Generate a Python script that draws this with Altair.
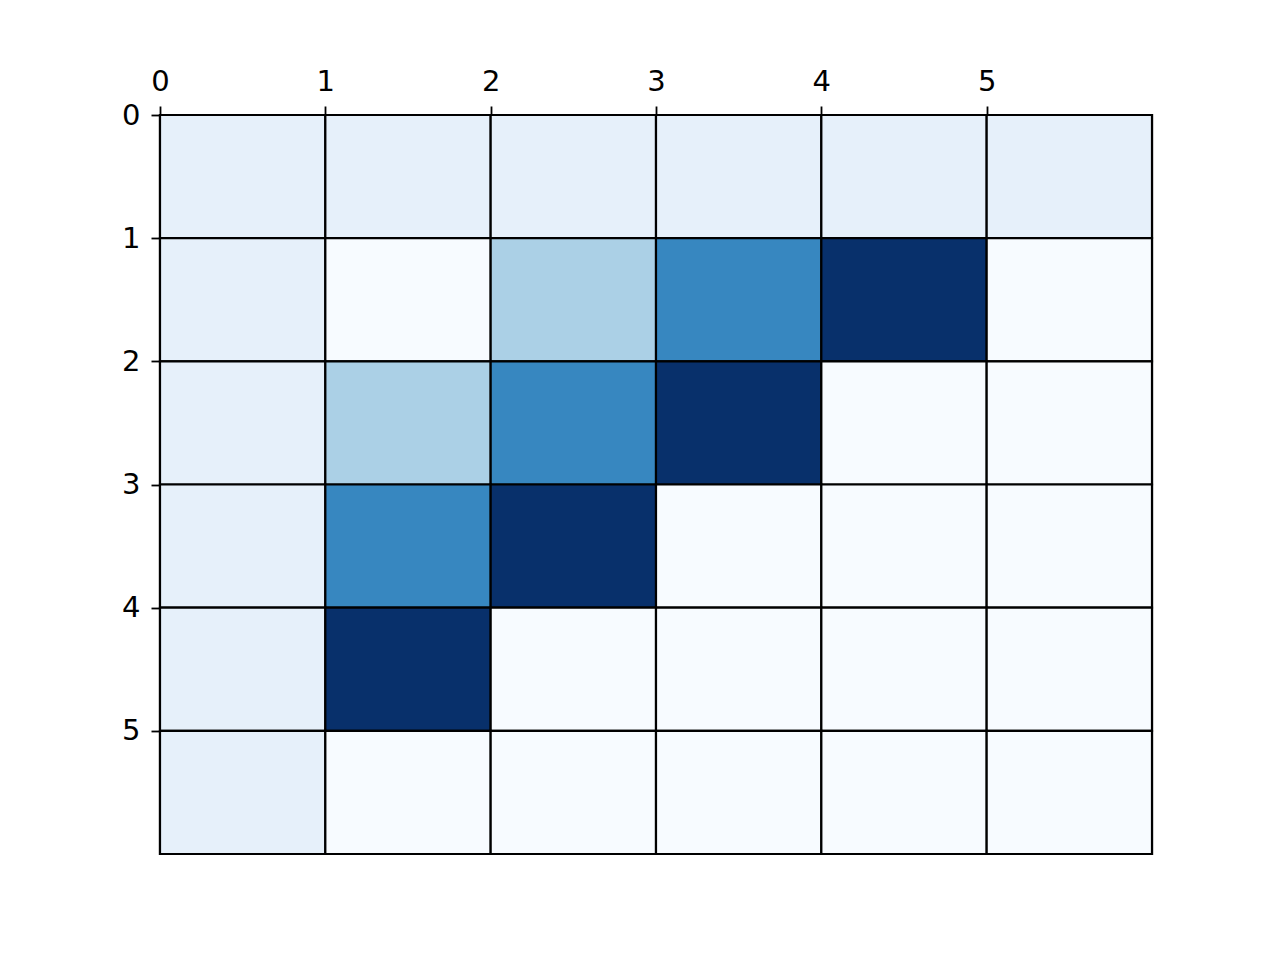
import altair as alt
import pandas as pd

# 6x6 grid values (row-major, row 0 at top)
rows = [0, 1, 2, 3, 4, 5]
cols = [0, 1, 2, 3, 4, 5]
values = [
    [0.25, 0.25, 0.25, 0.25, 0.25, 0.25],
    [0.25, 0.0, 1.0, 2.0, 3.0, 0.0],
    [0.25, 1.0, 2.0, 3.0, 0.0, 0.0],
    [0.25, 2.0, 3.0, 0.0, 0.0, 0.0],
    [0.25, 3.0, 0.0, 0.0, 0.0, 0.0],
    [0.25, 0.0, 0.0, 0.0, 0.0, 0.0],
]
tick_values = [0, 1, 2, 3, 4, 5]

# matplotlib "Blues" colour stops
blues = ["#f7fbff", "#deebf7", "#c6dbef", "#9ecae1", "#6baed6",
         "#4292c6", "#2171b5", "#08519c", "#08306b"]
vmax = 3.0
stops = [vmax * i / 8 for i in range(9)]

recs = []
for r in rows:
    for c in cols:
        recs.append({"x": c, "x2": c + 1, "y": r, "y2": r + 1, "v": values[r][c]})
df = pd.DataFrame(recs)

axis_style = dict(
    title=None, grid=False, values=tick_values, labelFlush=False,
    labelFontSize=29, labelFont="DejaVu Sans", labelColor="black",
    tickColor="black", tickSize=9, tickWidth=1.8,
    domainColor="black", domainWidth=2,
)

chart = alt.Chart(df).mark_rect(stroke="black", strokeWidth=2.2).encode(
    x=alt.X("x:Q", scale=alt.Scale(domain=[0, 6], nice=False, zero=False),
            axis=alt.Axis(orient="top", labelPadding=10, **axis_style)),
    x2="x2",
    y=alt.Y("y:Q", scale=alt.Scale(domain=[0, 6], nice=False, zero=False, reverse=True),
            axis=alt.Axis(orient="left", labelPadding=11, **axis_style)),
    y2="y2",
    color=alt.Color("v:Q", scale=alt.Scale(domain=stops, range=blues, interpolate="rgb"),
                    legend=None),
).properties(
    width=992, height=739,
    autosize=alt.AutoSizeParams(type="none"),
    padding={"left": 152, "top": 107, "right": 112, "bottom": 90},
).configure_view(stroke="black", strokeWidth=2.2)

chart.save("out.html", embed_options={"renderer": "svg", "actions": False})
